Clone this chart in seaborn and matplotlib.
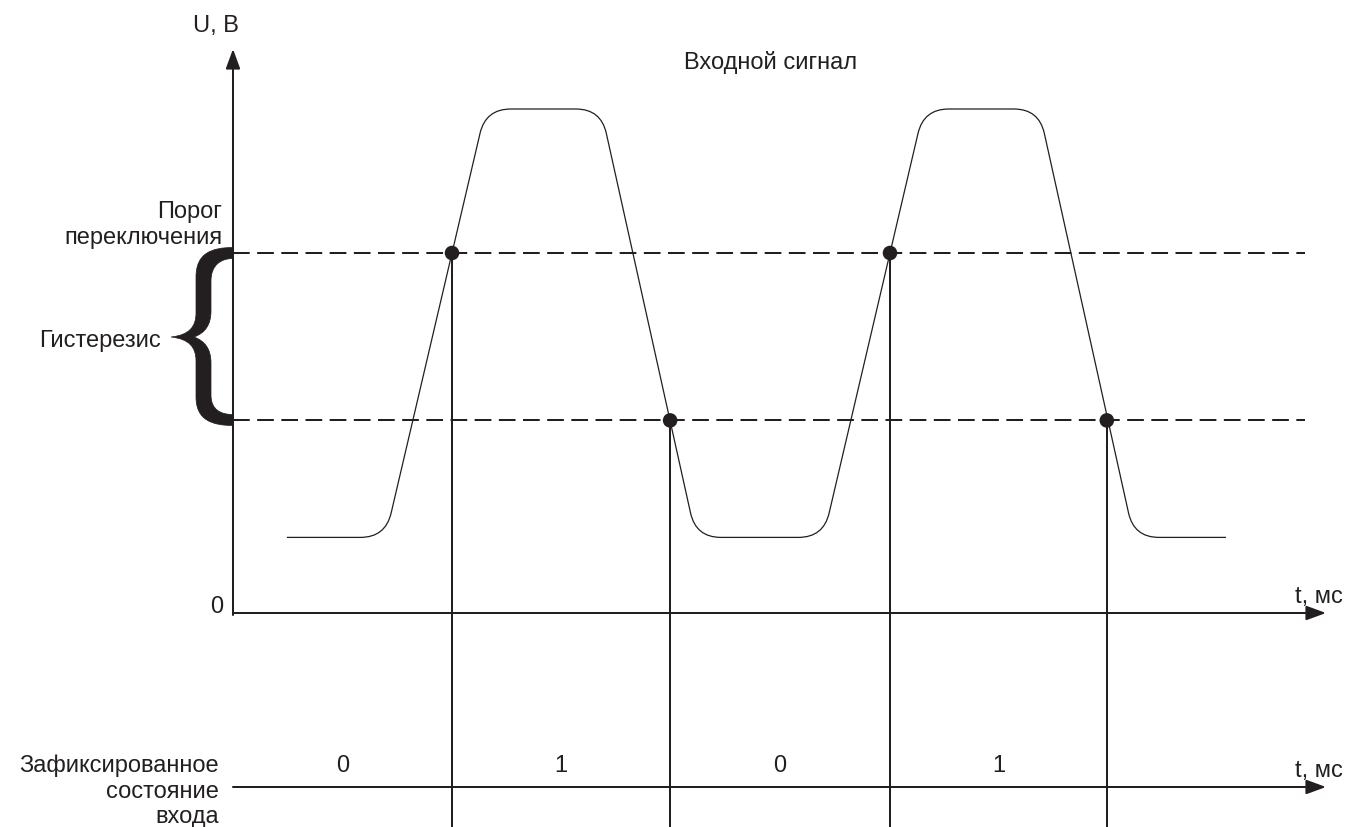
import numpy as np
import pandas as pd
import seaborn as sns
import matplotlib.pyplot as plt
from matplotlib.path import Path
from matplotlib.patches import PathPatch

# --- data: input signal corners (t in ms, U in V) ---
signal_t = [1.23, 3.48, 5.77, 8.40, 10.57, 13.48, 15.77, 18.40, 20.57, 22.67]
signal_u = [2.1, 2.1, 14.0, 14.0, 2.1, 2.1, 14.0, 14.0, 2.1, 2.1]
threshold_high = 10.0
threshold_low = 5.35
switch_t = [5.0, 9.98, 15.0, 19.95]
switch_u = [threshold_high, threshold_low, threshold_high, threshold_low]
states = ['0', '1', '0', '1']

INK = '#231f20'
W, H = 1347, 828
X0, PX_MS = 233, 43.8     # pixel of t=0, pixels per ms
Y0, PX_V = 614, 36.0      # pixel of U=0, pixels per V

sns.set_theme(style='white')
plt.rcParams['font.family'] = ['Liberation Sans', 'DejaVu Sans']
FS = 17


def tx(px):
    return (px - X0) / PX_MS


def uy(py):
    return (Y0 - py) / PX_V


fig = plt.figure(figsize=(W / 100, H / 100), dpi=100)
ax = fig.add_axes([0, 0, 1, 1])
ax.set_xlim(tx(0), tx(W))
ax.set_ylim(uy(H), uy(0))
ax.set_axis_off()

# signal with rounded corners (quadratic bezier at each corner)
R = 25  # rounding in px
pts = np.column_stack([signal_t, signal_u])
verts = [tuple(pts[0])]
codes = [Path.MOVETO]
for i in range(1, len(pts) - 1):
    c = pts[i]
    entry = []
    for nb in (pts[i - 1], pts[i + 1]):
        d = nb - c
        length = np.hypot(d[0] * PX_MS, d[1] * PX_V)
        entry.append(c + d * min(R / length, 0.45))
    verts += [tuple(entry[0]), tuple(c), tuple(entry[1])]
    codes += [Path.LINETO, Path.CURVE3, Path.CURVE3]
verts.append(tuple(pts[-1]))
codes.append(Path.LINETO)
ax.add_patch(PathPatch(Path(verts, codes), fill=False, lw=0.9, edgecolor=INK, zorder=3))

# thresholds
for level in (threshold_high, threshold_low):
    ax.plot([0, tx(1305)], [level, level], color=INK, lw=1.45,
            linestyle=(0, (8.3, 3.7)), zorder=2)

# switching moments
ax.vlines(switch_t, uy(H), switch_u, color=INK, lw=1.45, zorder=2)
sns.scatterplot(x=switch_t, y=switch_u, s=110, color=INK, edgecolor='none',
                zorder=5, ax=ax, legend=False)

# axes with arrows
arrow = dict(arrowstyle='-|>,head_length=0.6,head_width=0.22', color=INK,
             lw=1.45, mutation_scale=20, shrinkA=0, shrinkB=0)
ax.annotate('', xy=(0, uy(50)), xytext=(0, uy(616)), arrowprops=arrow)
ax.annotate('', xy=(tx(1326), 0), xytext=(0, 0), arrowprops=arrow)
ax.annotate('', xy=(tx(1326), uy(788)), xytext=(0, uy(788)), arrowprops=arrow)

# hysteresis brace (pixel outline)
C4, LT = Path.CURVE4, Path.LINETO
brace = [
    (Path.MOVETO, 233, 248.5),
    (C4, 212, 248.5), (C4, 196, 254), (C4, 196, 278),
    (LT, 196, 314),
    (C4, 196, 328), (C4, 189, 336), (C4, 171, 338),
    (C4, 189, 340), (C4, 196, 348), (C4, 196, 362),
    (LT, 196, 398),
    (C4, 196, 421), (C4, 212, 426.5), (C4, 233, 426.5),
    (LT, 233, 415.5),
    (C4, 221, 415.5), (C4, 211, 411), (C4, 211, 396),
    (LT, 211, 364),
    (C4, 211, 350), (C4, 205, 342), (C4, 194, 338),
    (C4, 205, 334), (C4, 211, 326), (C4, 211, 312),
    (LT, 211, 282),
    (C4, 211, 266), (C4, 221, 259.5), (C4, 233, 259.5),
    (Path.CLOSEPOLY, 233, 248.5),
]
bcodes = [b[0] for b in brace]
bverts = [(tx(b[1]), uy(b[2])) for b in brace]
ax.add_patch(PathPatch(Path(bverts, bcodes), facecolor=INK, edgecolor=INK, lw=0.5))


# labels
def label(x, y, s, ha='center'):
    ax.text(tx(x), uy(y), s, ha=ha, va='baseline', fontsize=FS, color=INK)


label(216, 32, 'U, В')
label(771, 69, 'Входной сигнал')
label(222, 218, 'Порог', ha='right')
label(222, 244, 'переключения', ha='right')
label(161, 347, 'Гистерезис', ha='right')
label(217, 613, '0')
label(1319, 603, 't, мс')
label(1319, 777, 't, мс')
label(219, 772, 'Зафиксированное', ha='right')
label(219, 798, 'состояние', ha='right')
label(219, 823, 'входа', ha='right')

bounds = [0] + switch_t
for left, right, s in zip(bounds[:-1], bounds[1:], states):
    ax.text((left + right) / 2, uy(772), s, ha='center', va='baseline',
            fontsize=FS, color=INK)

fig.savefig('out.png', dpi=100, facecolor='white')
